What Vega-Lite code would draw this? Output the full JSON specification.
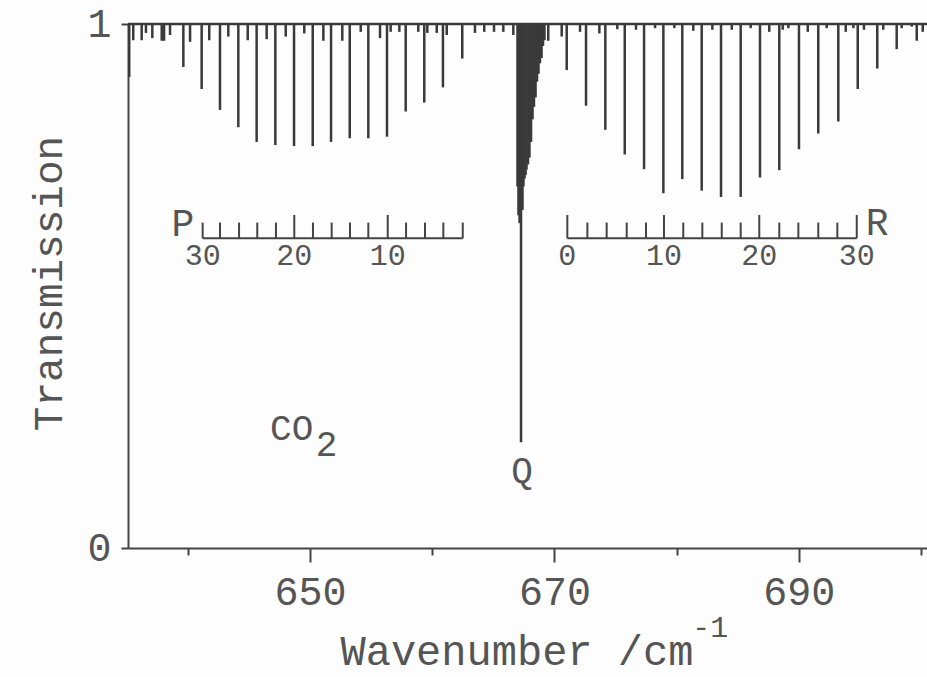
{
  "$schema": "https://vega.github.io/schema/vega-lite/v6.json",
  "width": 799,
  "height": 524,
  "autosize": {"type": "none"},
  "padding": {"left": 128, "top": 24, "right": 0, "bottom": 129},
  "background": "#fdfdfd",
  "config": {
    "view": {"stroke": null},
    "font": "Liberation Mono",
    "axis": {"grid": false, "domainColor": "#444", "domainWidth": 2, "tickColor": "#444", "tickWidth": 2, "labelColor": "#555", "titleColor": "#555", "labelFont": "Liberation Mono", "titleFont": "Liberation Mono", "titleFontWeight": "normal", "labelFontSize": 40}
  },
  "datasets": {
    "lines": [
      {"w": 639.63, "t": 0.918}, {"w": 641.13, "t": 0.876}, {"w": 642.63, "t": 0.836}, {"w": 644.13, "t": 0.803},
      {"w": 645.63, "t": 0.775}, {"w": 647.16, "t": 0.769}, {"w": 648.69, "t": 0.767}, {"w": 650.22, "t": 0.767},
      {"w": 651.72, "t": 0.775}, {"w": 653.25, "t": 0.782}, {"w": 654.77, "t": 0.782}, {"w": 656.30, "t": 0.785},
      {"w": 657.83, "t": 0.833}, {"w": 659.35, "t": 0.850}, {"w": 660.88, "t": 0.879}, {"w": 662.46, "t": 0.934},
      {"w": 671.01, "t": 0.912}, {"w": 672.59, "t": 0.844}, {"w": 674.17, "t": 0.798}, {"w": 675.76, "t": 0.751},
      {"w": 677.34, "t": 0.723}, {"w": 678.92, "t": 0.677}, {"w": 680.47, "t": 0.704}, {"w": 682.06, "t": 0.682},
      {"w": 683.64, "t": 0.670}, {"w": 685.25, "t": 0.670}, {"w": 686.83, "t": 0.707}, {"w": 688.41, "t": 0.721},
      {"w": 690.02, "t": 0.761}, {"w": 691.60, "t": 0.791}, {"w": 693.24, "t": 0.814}, {"w": 694.83, "t": 0.876},
      {"w": 696.43, "t": 0.915}, {"w": 698.02, "t": 0.952}, {"w": 699.66, "t": 0.968},
      {"w": 666.98, "t": 0.690}, {"w": 667.06, "t": 0.635}, {"w": 667.15, "t": 0.620}, {"w": 667.27, "t": 0.202},
      {"w": 667.39, "t": 0.645}, {"w": 667.47, "t": 0.690}, {"w": 667.56, "t": 0.705}, {"w": 667.64, "t": 0.712},
      {"w": 667.72, "t": 0.722}, {"w": 667.84, "t": 0.732}, {"w": 667.96, "t": 0.745}, {"w": 668.09, "t": 0.775},
      {"w": 668.21, "t": 0.818}, {"w": 668.33, "t": 0.842}, {"w": 668.46, "t": 0.860}, {"w": 668.58, "t": 0.890},
      {"w": 668.70, "t": 0.905}, {"w": 668.82, "t": 0.925}, {"w": 668.95, "t": 0.935}, {"w": 669.07, "t": 0.958},
      {"w": 669.19, "t": 0.969},
      {"w": 635.20, "t": 0.899}, {"w": 635.53, "t": 0.969}, {"w": 636.22, "t": 0.969}, {"w": 636.57, "t": 0.983},
      {"w": 637.09, "t": 0.973}, {"w": 637.86, "t": 0.968}, {"w": 638.05, "t": 0.968}, {"w": 638.54, "t": 0.979},
      {"w": 640.18, "t": 0.966}, {"w": 641.75, "t": 0.969}, {"w": 643.31, "t": 0.976}, {"w": 644.90, "t": 0.969},
      {"w": 646.45, "t": 0.971}, {"w": 648.01, "t": 0.976}, {"w": 649.53, "t": 0.982}, {"w": 651.09, "t": 0.968},
      {"w": 652.64, "t": 0.968}, {"w": 654.15, "t": 0.985}, {"w": 655.73, "t": 0.973}, {"w": 656.60, "t": 0.985},
      {"w": 657.31, "t": 0.985}, {"w": 658.86, "t": 0.985}, {"w": 659.60, "t": 0.983}, {"w": 660.37, "t": 0.983},
      {"w": 661.19, "t": 0.979}, {"w": 663.50, "t": 0.983}, {"w": 664.26, "t": 0.985}, {"w": 665.06, "t": 0.985},
      {"w": 665.82, "t": 0.985}, {"w": 666.64, "t": 0.979},
      {"w": 669.50, "t": 0.968}, {"w": 670.60, "t": 0.976}, {"w": 672.10, "t": 0.985}, {"w": 673.68, "t": 0.982},
      {"w": 675.15, "t": 0.990}, {"w": 676.68, "t": 0.989}, {"w": 678.24, "t": 0.992}, {"w": 679.82, "t": 0.992},
      {"w": 681.37, "t": 0.987}, {"w": 682.93, "t": 0.989}, {"w": 684.52, "t": 0.989}, {"w": 686.07, "t": 0.992},
      {"w": 687.59, "t": 0.985}, {"w": 688.69, "t": 0.989}, {"w": 689.15, "t": 0.992}, {"w": 690.74, "t": 0.985},
      {"w": 692.29, "t": 0.992}, {"w": 693.85, "t": 0.985}, {"w": 694.47, "t": 0.992}, {"w": 695.34, "t": 0.989},
      {"w": 696.92, "t": 0.989}, {"w": 698.43, "t": 0.992}, {"w": 699.25, "t": 0.995}, {"w": 700.15, "t": 0.985}
    ],
    "inset": [
      {"branch": "P", "J": 30, "w": 641.21, "major": false},
      {"branch": "P", "J": 28, "w": 642.63, "major": false},
      {"branch": "P", "J": 26, "w": 644.19, "major": false},
      {"branch": "P", "J": 24, "w": 645.68, "major": false},
      {"branch": "P", "J": 22, "w": 647.21, "major": false},
      {"branch": "P", "J": 20, "w": 648.71, "major": true},
      {"branch": "P", "J": 18, "w": 650.24, "major": false},
      {"branch": "P", "J": 16, "w": 651.77, "major": false},
      {"branch": "P", "J": 14, "w": 653.27, "major": false},
      {"branch": "P", "J": 12, "w": 654.77, "major": false},
      {"branch": "P", "J": 10, "w": 656.36, "major": true},
      {"branch": "P", "J": 8, "w": 657.86, "major": false},
      {"branch": "P", "J": 6, "w": 659.41, "major": false},
      {"branch": "P", "J": 4, "w": 660.91, "major": false},
      {"branch": "P", "J": 2, "w": 662.50, "major": false},
      {"branch": "R", "J": 0, "w": 671.06, "major": true},
      {"branch": "R", "J": 2, "w": 672.70, "major": false},
      {"branch": "R", "J": 4, "w": 674.28, "major": false},
      {"branch": "R", "J": 6, "w": 675.92, "major": false},
      {"branch": "R", "J": 8, "w": 677.50, "major": false},
      {"branch": "R", "J": 10, "w": 678.97, "major": true},
      {"branch": "R", "J": 12, "w": 680.55, "major": false},
      {"branch": "R", "J": 14, "w": 682.11, "major": false},
      {"branch": "R", "J": 16, "w": 683.70, "major": false},
      {"branch": "R", "J": 18, "w": 685.25, "major": false},
      {"branch": "R", "J": 20, "w": 686.77, "major": true},
      {"branch": "R", "J": 22, "w": 688.41, "major": false},
      {"branch": "R", "J": 24, "w": 689.97, "major": false},
      {"branch": "R", "J": 26, "w": 691.60, "major": false},
      {"branch": "R", "J": 28, "w": 693.16, "major": false},
      {"branch": "R", "J": 30, "w": 694.75, "major": true}
    ],
    "notes": [
      {"label": "P", "w": 639.6, "t": 0.616},
      {"label": "R", "w": 696.41, "t": 0.619},
      {"label": "CO", "w": 648.5, "t": 0.228},
      {"label": "2", "w": 651.36, "t": 0.196},
      {"label": "Q", "w": 667.35, "t": 0.147},
      {"label": "-1", "w": 682.75, "t": -0.152}
    ]
  },
  "layer": [
    {
      "data": {"name": "lines"},
      "mark": {"type": "rule", "color": "#3a3a3a", "strokeWidth": 2.5},
      "encoding": {
        "x": {
          "field": "w", "type": "quantitative",
          "scale": {"domain": [635.1, 700.5], "nice": false, "zero": false},
          "axis": {
            "values": [640, 650, 660, 670, 680, 690, 700],
            "labelExpr": "datum.value % 20 == 10 ? datum.label : ''",
            "tickSize": {"condition": {"test": "datum.value % 20 == 10", "value": 14}, "value": 7},
            "labelBaseline": "alphabetic", "labelPadding": 42, "labelOverlap": false, "labelFlush": false,
            "title": "Wavenumber /cm", "titleFontSize": 42, "titleX": 212, "titleY": 116,
            "titleAlign": "left", "titleAnchor": "start", "titleBaseline": "alphabetic"
          }
        },
        "y": {
          "field": "t", "type": "quantitative",
          "scale": {"domain": [0, 1], "nice": false, "zero": false},
          "axis": {
            "values": [0, 1], "format": "d", "tickSize": 7, "labelPadding": 10, "labelFlush": false,
            "title": "Transmission", "titleFontSize": 41, "titleX": -67, "titleY": 259,
            "titleAngle": -90, "titleAlign": "center", "titleBaseline": "alphabetic"
          }
        },
        "y2": {"datum": 1}
      }
    },
    {
      "data": {"values": [{}]},
      "mark": {"type": "rule", "color": "#3a3a3a", "strokeWidth": 2.5},
      "encoding": {"y": {"datum": 1, "type": "quantitative"}}
    },
    {
      "data": {"name": "inset"},
      "mark": {"type": "line", "color": "#444", "strokeWidth": 2},
      "encoding": {
        "x": {"field": "w", "type": "quantitative"},
        "y": {"datum": 0.591, "type": "quantitative"},
        "detail": {"field": "branch"}
      }
    },
    {
      "data": {"name": "inset"},
      "transform": [{"filter": "datum.major"}],
      "mark": {"type": "rule", "color": "#444", "strokeWidth": 2},
      "encoding": {
        "x": {"field": "w", "type": "quantitative"},
        "y": {"datum": 0.591, "type": "quantitative"},
        "y2": {"datum": 0.6355}
      }
    },
    {
      "data": {"name": "inset"},
      "transform": [{"filter": "!datum.major"}],
      "mark": {"type": "rule", "color": "#444", "strokeWidth": 2},
      "encoding": {
        "x": {"field": "w", "type": "quantitative"},
        "y": {"datum": 0.591, "type": "quantitative"},
        "y2": {"datum": 0.621}
      }
    },
    {
      "data": {"name": "inset"},
      "transform": [{"filter": "datum.J % 10 == 0"}],
      "mark": {"type": "text", "color": "#555", "fontSize": 30, "font": "Liberation Mono", "align": "center", "baseline": "middle"},
      "encoding": {
        "x": {"field": "w", "type": "quantitative"},
        "y": {"datum": 0.558, "type": "quantitative"},
        "text": {"field": "J", "type": "quantitative"}
      }
    },
    {
      "data": {"name": "notes"},
      "transform": [{"filter": "datum.label == 'P' || datum.label == 'R'"}],
      "mark": {"type": "text", "color": "#555", "fontSize": 38, "font": "Liberation Mono", "align": "center", "baseline": "middle"},
      "encoding": {
        "x": {"field": "w", "type": "quantitative"},
        "y": {"field": "t", "type": "quantitative"},
        "text": {"field": "label"}
      }
    },
    {
      "data": {"name": "notes"},
      "transform": [{"filter": "datum.label == 'CO' || datum.label == '2' || datum.label == 'Q'"}],
      "mark": {"type": "text", "color": "#555", "fontSize": 36, "font": "Liberation Mono", "align": "center", "baseline": "middle"},
      "encoding": {
        "x": {"field": "w", "type": "quantitative"},
        "y": {"field": "t", "type": "quantitative"},
        "text": {"field": "label"}
      }
    },
    {
      "data": {"name": "notes"},
      "transform": [{"filter": "datum.label == '-1'"}],
      "mark": {"type": "text", "color": "#555", "fontSize": 30, "font": "Liberation Mono", "align": "center", "baseline": "middle"},
      "encoding": {
        "x": {"field": "w", "type": "quantitative"},
        "y": {"field": "t", "type": "quantitative"},
        "text": {"field": "label"}
      }
    }
  ]
}
